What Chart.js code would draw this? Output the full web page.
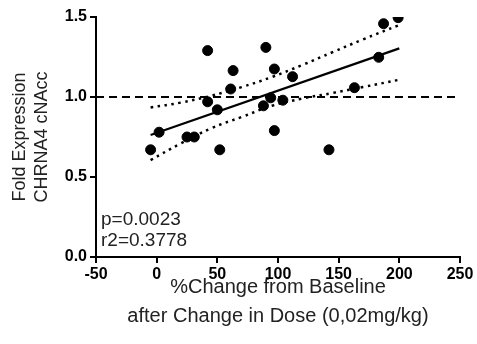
<!DOCTYPE html>
<html>
<head>
<meta charset="utf-8">
<script src="https://cdn.jsdelivr.net/npm/chart.js@4"></script>
<style>
    html, body { margin: 0; padding: 0; background: #fff; }
    #wrap { width: 477px; height: 344px; }
</style>
</head>
<body>
<div id="wrap"><canvas id="foldChart" width="477" height="344"></canvas></div>
<script>
// Data
const changeX = [-5, 2, 25, 31, 42, 42, 50, 52, 61, 63, 88, 90, 94, 97, 97, 104, 112, 142, 163, 183, 187, 199];
const foldY = [0.67, 0.78, 0.75, 0.75, 1.29, 0.97, 0.92, 0.67, 1.05, 1.165, 0.945, 1.31, 0.995, 1.175, 0.79, 0.98, 1.127, 0.67, 1.058, 1.248, 1.458, 1.496];

const fitX = [-5, 200];
const fitY = [0.762, 1.304];

const bandX = [-5, 20, 45, 70, 95, 120, 145, 170, 200];
const upperY = [0.935, 0.965, 1.008, 1.062, 1.125, 1.2, 1.28, 1.36, 1.45];
const lowerY = [0.606, 0.71, 0.805, 0.875, 0.945, 0.99, 1.025, 1.062, 1.108];

const refX = [-50, 250];
const refY = [1, 1];

const xTicks = [-50, 0, 50, 100, 150, 200, 250];
const yTicks = [0, 0.5, 1.0, 1.5];

const statLines = ['p=0.0023', 'r2=0.3778'];

function pairs(xs, ys) {
    return xs.map(function(x, i) { return { x: x, y: ys[i] }; });
}

const fontFamily = '"Liberation Sans", Arial, Helvetica, sans-serif';

// stats text in the lower left of the plot
const statsText = {
    id: 'statsText',
    afterDraw: function(chart) {
        const ctx = chart.ctx;
        const area = chart.chartArea;
        ctx.save();
        ctx.font = '19px ' + fontFamily;
        ctx.fillStyle = '#222';
        ctx.textAlign = 'left';
        ctx.textBaseline = 'middle';
        ctx.fillText(statLines[0], area.left + 5, 220);
        ctx.fillText(statLines[1], area.left + 5, 241);
        ctx.restore();
    }
};

const ctx = document.getElementById('foldChart');
new Chart(ctx, {
    type: 'scatter',
    data: {
        datasets: [{
            data: pairs(changeX, foldY),
            backgroundColor: '#000',
            borderColor: '#000',
            pointRadius: 5,
            order: 0
        }, {
            type: 'line',
            data: pairs(fitX, fitY),
            borderColor: '#000',
            borderWidth: 2.2,
            pointRadius: 0,
            fill: false,
            order: 1
        }, {
            type: 'line',
            data: pairs(bandX, upperY),
            borderColor: '#000',
            borderWidth: 2.5,
            borderDash: [2.5, 4.5],
            tension: 0.4,
            pointRadius: 0,
            fill: false,
            order: 2
        }, {
            type: 'line',
            data: pairs(bandX, lowerY),
            borderColor: '#000',
            borderWidth: 2.5,
            borderDash: [2.5, 4.5],
            tension: 0.4,
            pointRadius: 0,
            fill: false,
            order: 2
        }, {
            type: 'line',
            data: pairs(refX, refY),
            borderColor: '#000',
            borderWidth: 2,
            borderDash: [8, 5],
            pointRadius: 0,
            fill: false,
            order: 3
        }]
    },
    options: {
        responsive: false,
        animation: false,
        layout: {
            padding: { top: 17, right: 17, left: 0, bottom: 0 }
        },
        plugins: {
            legend: { display: false },
            tooltip: { enabled: false }
        },
        scales: {
            x: {
                type: 'linear',
                min: -50,
                max: 250,
                afterBuildTicks: function(scale) {
                    scale.ticks = xTicks.map(function(v) { return { value: v }; });
                },
                afterFit: function(scale) {
                    scale.height = 87;
                },
                grid: {
                    drawOnChartArea: false,
                    drawTicks: true,
                    tickLength: 6,
                    color: '#000',
                    lineWidth: 2
                },
                border: { display: true, color: '#000', width: 2 },
                ticks: {
                    color: '#000',
                    padding: 2,
                    maxRotation: 0,
                    font: { family: fontFamily, size: 16, weight: 'bold' }
                },
                title: {
                    display: true,
                    text: ['%Change from Baseline', 'after Change in Dose (0,02mg/kg)'],
                    color: '#222',
                    font: { family: fontFamily, size: 20, lineHeight: 1.45 },
                    padding: { top: 0, bottom: 13 }
                }
            },
            y: {
                type: 'linear',
                min: 0,
                max: 1.5,
                afterBuildTicks: function(scale) {
                    scale.ticks = yTicks.map(function(v) { return { value: v }; });
                },
                afterFit: function(scale) {
                    scale.width = 96;
                },
                grid: {
                    drawOnChartArea: false,
                    drawTicks: true,
                    tickLength: 6,
                    color: '#000',
                    lineWidth: 2
                },
                border: { display: true, color: '#000', width: 2 },
                ticks: {
                    color: '#000',
                    padding: 3,
                    font: { family: fontFamily, size: 16, weight: 'bold' },
                    callback: function(value) {
                        return value.toFixed(1);
                    }
                },
                title: {
                    display: true,
                    text: ['Fold Expression', 'CHRNA4 cNAcc'],
                    color: '#222',
                    font: { family: fontFamily, size: 18, lineHeight: 1.17 },
                    padding: { top: 10, bottom: 0 }
                }
            }
        }
    },
    plugins: [statsText]
});
</script>
</body>
</html>
